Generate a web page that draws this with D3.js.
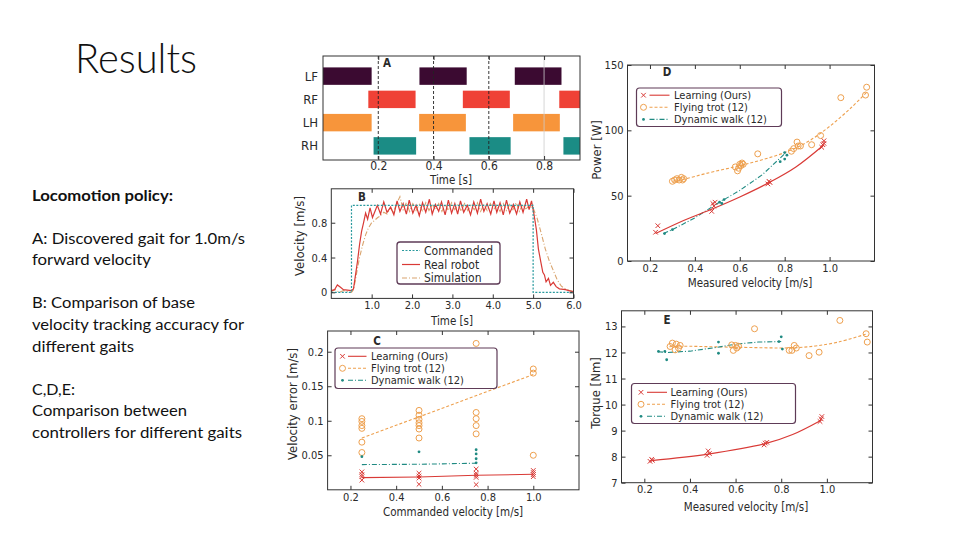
<!DOCTYPE html>
<html><head><meta charset="utf-8">
<script src="https://cdn.jsdelivr.net/npm/d3@7"></script>
<style>
body{margin:0;background:#fff}
svg{display:block}
.ct{font-family:"DejaVu Sans Condensed","DejaVu Sans",sans-serif;fill:#2a2a2a}
.sl{font-family:Lato,"Open Sans",sans-serif;fill:#111}
</style>
</head><body>
<svg id="c" width="960" height="540"></svg>
<script>
// ================= DATA =================
const slideTitle = "Results";
const noteText = ["Locomotion policy:", "A: Discovered gait for 1.0m/s", "forward velocity",
  "B: Comparison of base", "velocity tracking accuracy for", "different gaits",
  "C,D,E:", "Comparison between", "controllers for different gaits"];

// Panel A – gait diagram (stance intervals, seconds)
const legs = ["LF", "RF", "LH", "RH"];
const stanceLeg = ["LF","LF","LF","RF","RF","RF","LH","LH","LH","RH","RH","RH"];
const stanceOn  = [0.0, 0.349, 0.694, 0.164, 0.506, 0.855, 0.0, 0.348, 0.688, 0.183, 0.530, 0.870];
const stanceOff = [0.176, 0.520, 0.863, 0.335, 0.676, 0.93, 0.176, 0.517, 0.857, 0.337, 0.679, 0.93];
const gaitTicks = [0.2, 0.4, 0.6, 0.8];
const gaitMarks = [0.2, 0.4, 0.6];

// Panel B – velocity tracking
const cmdT = [0, 0.5, 0.5, 5.0, 5.0, 6.0];
const cmdV = [0, 0, 1.0, 1.0, 0, 0];
const robotT = [0.0,0.08,0.15,0.22,0.3,0.4,0.5,0.55,0.6,0.65,0.7,0.75,0.8,0.85,0.9,0.96,1.02,1.08,
  1.14,1.22,1.30,1.38,1.47,1.55,1.63,1.70,1.78,1.86,1.93,2.02,2.10,2.18,2.26,2.34,2.43,2.50,2.58,2.66,
  2.73,2.82,2.90,2.98,3.06,3.13,3.20,3.28,3.37,3.45,3.53,3.62,3.70,3.78,3.86,3.95,4.03,4.10,4.18,4.26,
  4.34,4.42,4.51,4.59,4.67,4.75,4.84,4.90,4.96,5.02,5.08,5.13,5.19,5.24,5.28,5.32,5.38,5.43,5.5,5.57,
  5.65,5.8,5.95,6.0];
const robotV = [0.02,0.03,0.085,0.06,0.03,0.025,0.02,0.04,0.2,0.36,0.55,0.7,0.8,0.91,0.84,0.97,0.86,0.93,
  1.0,0.9,1.04,0.92,0.98,0.89,1.05,0.93,1.02,0.9,1.06,0.91,1.0,0.88,1.03,0.92,1.07,0.9,1.01,0.93,
  1.04,0.89,1.06,0.91,1.02,0.9,1.05,0.92,1.0,0.89,1.04,0.91,1.07,0.93,1.02,0.9,1.05,0.92,1.03,0.89,
  1.06,0.91,1.01,0.9,1.04,0.92,1.07,0.95,1.05,0.9,0.72,0.5,0.35,0.23,0.2,0.12,0.16,0.08,0.115,0.065,
  0.04,0.03,0.01,0.01];
const simT = [0.0,0.1,0.2,0.3,0.4,0.5,0.55,0.6,0.65,0.7,0.78,0.85,0.92,1.0,1.08,1.15,1.22,1.3,1.38,1.46,
  1.54,1.62,1.7,1.78,1.86,1.94,2.02,2.1,2.18,2.26,2.34,2.42,2.5,2.58,2.66,2.74,2.82,2.9,2.98,3.06,3.14,
  3.22,3.3,3.38,3.46,3.54,3.62,3.7,3.78,3.86,3.94,4.02,4.1,4.18,4.26,4.34,4.42,4.5,4.58,4.66,4.74,4.82,
  4.9,5.0,5.1,5.2,5.3,5.4,5.5,5.6,5.7,5.8,5.9,6.0];
const simV = [0.01,0.03,0.0,0.02,0.01,0.0,0.03,0.15,0.28,0.4,0.55,0.66,0.74,0.8,0.83,0.86,0.88,0.92,0.9,0.97,
  0.92,1.02,1.1,0.95,1.03,0.93,1.02,0.94,1.01,0.93,1.03,0.94,1.01,0.95,1.02,0.93,1.01,0.94,1.03,0.95,1.01,
  0.93,1.02,0.94,1.0,0.95,1.03,0.93,1.01,0.94,1.02,0.95,1.0,0.93,1.02,0.94,1.01,0.95,1.03,0.93,1.01,0.96,
  0.99,0.97,0.85,0.68,0.5,0.36,0.25,0.14,0.07,0.04,0.02,0.01];
const bTimeTicks = [1, 2, 3, 4, 5, 6];
const bVelTicks = [0, 0.4, 0.8];
const bLegend = ["Commanded", "Real robot", "Simulation"];

// Shared legend labels for C, D, E
const ctrlNames = ["Learning (Ours)", "Flying trot (12)", "Dynamic walk (12)"];
const speedTicks = [0.2, 0.4, 0.6, 0.8, 1.0];

// Panel C – velocity error vs commanded velocity
const errTicks = [0.05, 0.1, 0.15, 0.2];
const learnErrX = [0.25,0.25,0.25,0.25, 0.5,0.5,0.5,0.5, 0.75,0.75,0.75,0.75,0.75, 1.0,1.0,1.0,1.0];
const learnErrY = [0.026,0.022,0.019,0.014, 0.024,0.020,0.017,0.008, 0.030,0.024,0.021,0.018,0.0075, 0.028,0.025,0.022,0.019];
const learnErrFitX = [0.25, 0.5, 0.75, 1.0];
const learnErrFitY = [0.0176, 0.0185, 0.021, 0.0225];
const trotErrX = [0.25,0.25,0.25,0.25,0.25,0.25, 0.5,0.5,0.5,0.5,0.5,0.5,0.5, 0.75,0.75,0.75,0.75,0.75,0.75, 1.0,1.0,1.0];
const trotErrY = [0.103,0.099,0.093,0.089,0.069,0.054, 0.115,0.108,0.102,0.097,0.093,0.088,0.075, 0.212,0.170,0.112,0.103,0.093,0.081, 0.175,0.169,0.050];
const trotErrFitX = [0.25, 1.0];
const trotErrFitY = [0.075, 0.167];
const walkErrX = [0.25, 0.5, 0.75, 0.75, 0.75, 0.75];
const walkErrY = [0.048, 0.055, 0.058, 0.052, 0.045, 0.039];
const walkErrFitX = [0.25, 0.5, 0.75];
const walkErrFitY = [0.0365, 0.037, 0.0385];

// Panel D – power vs measured velocity
const powTicks = [0, 50, 100, 150];
const learnPowV = [0.225,0.235,0.475,0.48,0.485,0.49,0.725,0.73,0.735,0.965,0.97,0.975,0.975];
const learnPowP = [22,27,38,44,42,45,59,61,60,87,89,92,90];
const learnPowFitV = [0.225, 0.35, 0.48, 0.6, 0.73, 0.85, 0.975];
const learnPowFitP = [21, 31, 40, 49, 60, 72, 89];
const trotPowV = [0.30,0.31,0.32,0.33,0.34,0.345,0.35, 0.58,0.59,0.595,0.60,0.605,0.61,0.615, 0.68, 0.83,0.84,0.855,0.86,0.87, 0.92,0.96, 1.05, 1.16,1.165];
const trotPowP = [61,62,63,62,64,62,63, 72,69,71,74,73,75,74, 82, 84,86,91,88,88, 89,96, 125, 127,133];
const trotPowFitV = [0.3, 0.35, 0.45, 0.6, 0.7, 0.8, 0.9, 1.0, 1.1, 1.17];
const trotPowFitP = [61, 62.5, 67, 73, 77.5, 83, 91, 103, 118, 130];
const walkPowV = [0.265, 0.3, 0.51, 0.52, 0.53, 0.78, 0.8, 0.8, 0.81];
const walkPowP = [21, 24, 45, 44, 47, 76, 78, 83, 81];
const walkPowFitV = [0.26, 0.3, 0.4, 0.5, 0.52, 0.6, 0.7, 0.8];
const walkPowFitP = [21, 24, 33, 44, 46, 54, 66, 82];

// Panel E – torque vs measured velocity
const torTicks = [7, 8, 9, 10, 11, 12, 13];
const learnTorV = [0.225,0.232,0.235,0.475,0.48,0.485,0.725,0.73,0.737,0.97,0.975,0.978];
const learnTorT = [7.82,7.9,7.86,8.05,8.22,8.12,8.45,8.52,8.55,9.35,9.45,9.54];
const learnTorFitV = [0.23, 0.48, 0.73, 0.85, 0.975];
const learnTorFitT = [7.85, 8.1, 8.5, 8.85, 9.4];
const trotTorV = [0.313,0.323,0.335,0.34,0.35,0.357, 0.583,0.59,0.60,0.605,0.613, 0.683, 0.835,0.847,0.857,0.866, 0.922,0.966, 1.057, 1.172,1.177];
const trotTorT = [12.23,12.36,12.1,12.32,12.17,12.27, 12.29,12.08,12.27,12.17,12.24, 12.91, 12.08,12.08,12.27,12.17, 11.88,12.01, 13.23, 12.72,12.4];
const trotTorFitV = [0.31, 0.35, 0.6, 0.85, 0.95, 1.05, 1.17];
const trotTorFitT = [12.22, 12.24, 12.2, 12.18, 12.25, 12.4, 12.7];
const walkTorV = [0.262, 0.29, 0.298, 0.525, 0.525, 0.79, 0.8, 0.805];
const walkTorT = [12.04, 12.04, 11.72, 12.4, 11.97, 12.42, 12.6, 12.13];
const walkTorFitV = [0.26, 0.3, 0.4, 0.52, 0.6, 0.7, 0.8];
const walkTorFitT = [12.03, 12.0, 12.05, 12.2, 12.32, 12.4, 12.42];

// ================= STYLE =================
const legColor = {LF: "#3b0a31", RF: "#ef4136", LH: "#f7953b", RH: "#1b8c85"};
const RED = "#d93a36", ORANGE = "#eea04e", TEAL = "#1f8a82", SIM = "#d9a46e", CMD = "#2a9a9e";
const FRAME = "#333", LEGBOX = "#5e3b57";

const svg = d3.select("#c");

// ---------- slide text ----------
svg.append("text").attr("class", "sl").attr("x", 75).attr("y", 73)
  .attr("font-size", 41).attr("font-weight", 300)
  .attr("textLength", 122).attr("lengthAdjust", "spacingAndGlyphs").text(slideTitle);
const noteY = [201, 244, 265, 308, 330, 352, 395, 416, 438];
const noteW = [141, 213, 119, 163, 212, 102, 43, 155, 210];
noteText.forEach((t, i) => {
  svg.append("text").attr("class", "sl").attr("x", 32).attr("y", noteY[i])
    .attr("font-size", 15.5).attr("font-weight", i === 0 ? 700 : 400)
    .attr("textLength", noteW[i]).attr("lengthAdjust", "spacingAndGlyphs").text(t);
});

// ---------- helpers ----------
function frame(x, y, o) {
  const g = svg.append("g");
  const [x0, x1] = x.range(), [yb, yt] = y.range();
  const fs = o.fs || 10.5;
  const styleAxis = sel => {
    sel.select(".domain").remove();
    sel.selectAll("line").attr("stroke", FRAME);
    sel.attr("font-family", null).attr("font-size", null).attr("color", "#2a2a2a");
    sel.selectAll("text").attr("class", "ct").attr("font-size", fs);
  };
  if (o.xt) {
    g.append("g").attr("transform", `translate(0,${yb})`)
      .call(d3.axisBottom(x).tickValues(o.xt).tickFormat(o.xf).tickSizeInner(-4).tickSizeOuter(0).tickPadding(o.xpad || 3))
      .call(styleAxis);
    g.append("g").attr("transform", `translate(0,${yt})`)
      .call(d3.axisTop(x).tickValues(o.xt).tickFormat("").tickSizeInner(-4).tickSizeOuter(0))
      .call(styleAxis);
  }
  if (o.yt) {
    g.append("g").attr("transform", `translate(${x0},0)`)
      .call(d3.axisLeft(y).tickValues(o.yt).tickFormat(o.yf).tickSizeInner(-4).tickSizeOuter(0).tickPadding(o.ypad || 4))
      .call(styleAxis);
    g.append("g").attr("transform", `translate(${x1},0)`)
      .call(d3.axisRight(y).tickValues(o.yt).tickFormat("").tickSizeInner(-4).tickSizeOuter(0))
      .call(styleAxis);
  }
  g.append("rect").attr("x", x0).attr("y", yt).attr("width", x1 - x0).attr("height", yb - yt)
    .attr("fill", "none").attr("stroke", FRAME).attr("stroke-width", 1);
  if (o.xlabel) svg.append("text").attr("class", "ct").attr("x", o.xlabel[1]).attr("y", o.xlabel[2])
    .attr("text-anchor", "middle").attr("font-size", o.xls || 11.5).text(o.xlabel[0]);
  if (o.ylabel) svg.append("text").attr("class", "ct")
    .attr("transform", `translate(${o.ylabel[1]},${o.ylabel[2]}) rotate(-90)`)
    .attr("text-anchor", "middle").attr("font-size", o.yls || 13).text(o.ylabel[0]);
  if (o.letter) svg.append("text").attr("class", "ct").attr("x", o.letter[1]).attr("y", o.letter[2])
    .attr("font-weight", 700).attr("font-size", 11.5).attr("text-anchor", "middle").text(o.letter[0]);
  return g;
}
const cross = "M-2.3,-2.3L2.3,2.3M-2.3,2.3L2.3,-2.3";
function drawX(g, x, y, xs, ys) {
  g.selectAll(null).data(xs).enter().append("path")
    .attr("transform", (d, i) => `translate(${x(d)},${y(ys[i])})`)
    .attr("d", cross).attr("stroke", RED).attr("stroke-width", 1).attr("fill", "none");
}
function drawO(g, x, y, xs, ys) {
  g.selectAll(null).data(xs).enter().append("circle")
    .attr("cx", d => x(d)).attr("cy", (d, i) => y(ys[i])).attr("r", 3)
    .attr("fill", "none").attr("stroke", ORANGE).attr("stroke-width", 1);
}
function drawDot(g, x, y, xs, ys) {
  g.selectAll(null).data(xs).enter().append("circle")
    .attr("cx", d => x(d)).attr("cy", (d, i) => y(ys[i])).attr("r", 1.4).attr("fill", TEAL);
}
function drawLine(g, x, y, xs, ys, color, dash, curve, w) {
  const line = d3.line().x(d => x(d[0])).y(d => y(d[1])).curve(curve || d3.curveLinear);
  g.append("path").attr("d", line(xs.map((d, i) => [d, ys[i]])))
    .attr("fill", "none").attr("stroke", color).attr("stroke-width", w || 1.1)
    .attr("stroke-dasharray", dash);
}
function ctrlLegend(box, rows, mx, lx0, lx1, tx, fs) {
  const g = svg.append("g");
  g.append("rect").attr("x", box[0]).attr("y", box[1]).attr("width", box[2]).attr("height", box[3])
    .attr("rx", 3).attr("fill", "#fff").attr("stroke", LEGBOX).attr("stroke-width", 1.2);
  const styles = [[RED, null], [ORANGE, "3,2"], [TEAL, "5,2,1,2"]];
  rows.forEach((ry, i) => {
    if (i === 0) g.append("path").attr("transform", `translate(${mx},${ry})`).attr("d", cross)
      .attr("stroke", RED).attr("fill", "none");
    if (i === 1) g.append("circle").attr("cx", mx).attr("cy", ry).attr("r", 3).attr("fill", "none").attr("stroke", ORANGE);
    if (i === 2) g.append("circle").attr("cx", mx).attr("cy", ry).attr("r", 1.4).attr("fill", TEAL);
    g.append("line").attr("x1", lx0).attr("x2", lx1).attr("y1", ry).attr("y2", ry)
      .attr("stroke", styles[i][0]).attr("stroke-width", 1.1).attr("stroke-dasharray", styles[i][1]);
    g.append("text").attr("class", "ct").attr("x", tx).attr("y", ry + 4).attr("font-size", fs || 12)
      .text(ctrlNames[i]);
  });
}

// ================= PANEL A =================
{
  const x = d3.scaleLinear().domain([0, 0.93]).range([323, 580]);
  const y = d3.scaleBand().domain(legs).range([64.5, 157.5]).paddingInner(0.25).paddingOuter(0.125);
  const g = svg.append("g");
  g.selectAll(null).data(stanceLeg).enter().append("rect")
    .attr("x", (d, i) => x(stanceOn[i])).attr("width", (d, i) => x(stanceOff[i]) - x(stanceOn[i]))
    .attr("y", d => y(d)).attr("height", y.bandwidth()).attr("fill", d => legColor[d]);
  g.append("line").attr("x1", x(0.8)).attr("x2", x(0.8)).attr("y1", 56).attr("y2", 160)
    .attr("stroke", "#ccc").attr("stroke-width", 0.8);
  g.selectAll(null).data(gaitMarks).enter().append("line")
    .attr("x1", d => x(d)).attr("x2", d => x(d)).attr("y1", 56).attr("y2", 160)
    .attr("stroke", "#222").attr("stroke-width", 0.9).attr("stroke-dasharray", "3,2");
  const yy = d3.scaleLinear().range([160, 56]);
  frame(x, yy, {xt: gaitTicks, xf: d3.format(".1f"), fs: 12, xpad: 1.5,
    xlabel: ["Time [s]", 451, 184], xls: 11.5, letter: ["A", 387, 67]});
  legs.forEach(l => svg.append("text").attr("class", "ct").attr("x", 318).attr("y", y(l) + y.bandwidth() / 2 + 4.5)
    .attr("text-anchor", "end").attr("font-size", 13).text(l));
}

// ================= PANEL B =================
{
  const x = d3.scaleLinear().domain([0, 6]).range([331.3, 573.5]);
  const y = d3.scaleLinear().domain([-0.07, 1.19]).range([298.4, 188.8]);
  const g = svg.append("g");
  drawLine(g, x, y, simT, simV, SIM, "5,2,1,2", d3.curveLinear, 1.1);
  drawLine(g, x, y, robotT, robotV, RED, null, d3.curveLinear, 1.2);
  drawLine(g, x, y, cmdT, cmdV, CMD, "2,1.5", d3.curveLinear, 1.2);
  frame(x, y, {xt: bTimeTicks, xf: d3.format(".1f"), yt: bVelTicks, yf: d => String(d), fs: 11,
    xlabel: ["Time [s]", 452, 325], ylabel: ["Velocity [m/s]", 304, 236], letter: ["B", 362, 201]});
  const lg = svg.append("g");
  lg.append("rect").attr("x", 397).attr("y", 242).attr("width", 103).attr("height", 42)
    .attr("rx", 3).attr("fill", "#fff").attr("stroke", LEGBOX).attr("stroke-width", 1.3);
  const bStyles = [[CMD, "2,1.5"], [RED, null], [SIM, "5,2,1,2"]];
  [250.5, 264.5, 278].forEach((ry, i) => {
    lg.append("line").attr("x1", 402).attr("x2", 420).attr("y1", ry).attr("y2", ry)
      .attr("stroke", bStyles[i][0]).attr("stroke-width", 1.2).attr("stroke-dasharray", bStyles[i][1]);
    lg.append("text").attr("class", "ct").attr("x", 424).attr("y", ry + 4).attr("font-size", 12).text(bLegend[i]);
  });
}

// ================= PANEL C =================
{
  const x = d3.scaleLinear().domain([0.1, 1.2]).range([327.6, 579]);
  const y = d3.scaleLinear().domain([0, 0.23]).range([489.8, 331]);
  const g = svg.append("g");
  drawLine(g, x, y, trotErrFitX, trotErrFitY, ORANGE, "3,2");
  drawLine(g, x, y, walkErrFitX, walkErrFitY, TEAL, "5,2,1,2");
  drawLine(g, x, y, learnErrFitX, learnErrFitY, RED, null);
  drawO(g, x, y, trotErrX, trotErrY);
  drawDot(g, x, y, walkErrX, walkErrY);
  drawX(g, x, y, learnErrX, learnErrY);
  frame(x, y, {xt: speedTicks, xf: d3.format(".1f"), yt: errTicks, yf: d => String(d), fs: 11,
    xlabel: ["Commanded velocity [m/s]", 453, 516], ylabel: ["Velocity error [m/s]", 297, 404], letter: ["C", 377, 344.5]});
  ctrlLegend([335, 348, 162, 40.5], [356.3, 368.3, 380.3], 342.5, 348, 366.5, 371, 11);
}

// ================= PANEL D =================
{
  const x = d3.scaleLinear().domain([0.1, 1.2]).range([627.5, 874.5]);
  const y = d3.scaleLinear().domain([0, 150]).range([261, 65]);
  const g = svg.append("g");
  drawLine(g, x, y, trotPowFitV, trotPowFitP, ORANGE, "3,2", d3.curveCatmullRom);
  drawLine(g, x, y, walkPowFitV, walkPowFitP, TEAL, "5,2,1,2", d3.curveLinear);
  drawLine(g, x, y, learnPowFitV, learnPowFitP, RED, null, d3.curveCatmullRom, 1.2);
  drawO(g, x, y, trotPowV, trotPowP);
  drawDot(g, x, y, walkPowV, walkPowP);
  drawX(g, x, y, learnPowV, learnPowP);
  frame(x, y, {xt: speedTicks, xf: d3.format(".1f"), yt: powTicks, yf: d => String(d), fs: 11,
    xlabel: ["Measured velocity [m/s]", 750, 287], ylabel: ["Power [W]", 601, 150], letter: ["D", 667, 76]});
  ctrlLegend([636.5, 88, 145, 38.5], [95.2, 107.3, 119.4], 643.5, 649.5, 669.5, 674, 11);
}

// ================= PANEL E =================
{
  const x = d3.scaleLinear().domain([0.1, 1.2]).range([621.5, 872.5]);
  const y = d3.scaleLinear().domain([7, 13.6]).range([482.7, 310.8]);
  const g = svg.append("g");
  drawLine(g, x, y, trotTorFitV, trotTorFitT, ORANGE, "3,2", d3.curveCatmullRom);
  drawLine(g, x, y, walkTorFitV, walkTorFitT, TEAL, "5,2,1,2", d3.curveLinear);
  drawLine(g, x, y, learnTorFitV, learnTorFitT, RED, null, d3.curveCatmullRom, 1.2);
  drawO(g, x, y, trotTorV, trotTorT);
  drawDot(g, x, y, walkTorV, walkTorT);
  drawX(g, x, y, learnTorV, learnTorT);
  frame(x, y, {xt: speedTicks, xf: d3.format(".1f"), yt: torTicks, yf: d => String(d), fs: 11,
    xlabel: ["Measured velocity [m/s]", 746, 511], ylabel: ["Torque [Nm]", 599.5, 393], letter: ["E", 667, 323.5]});
  ctrlLegend([631.5, 383.5, 164, 40], [392.3, 404.3, 416.3], 641, 647, 667, 670.5, 11);
}
</script>
</body></html>
